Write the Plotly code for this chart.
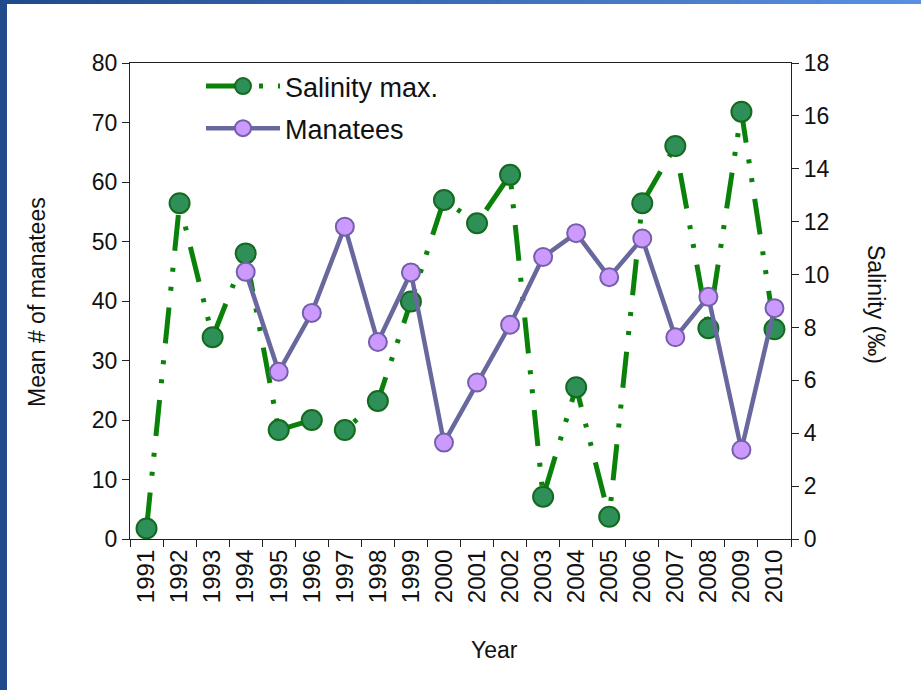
import plotly.graph_objects as go

# ---------------- data ----------------
years = [str(y) for y in range(1991, 2011)]
salinity_max = [0.40, 12.70, 7.63, 10.80, 4.12, 4.50, 4.12, 5.22, 8.98, 12.82,
                11.94, 13.77, 1.60, 5.74, 0.84, 12.70, 14.86, 7.97, 16.16, 7.93]
manatees = [None, None, None, 44.9, 28.1, 38.0, 52.5, 33.1, 44.8, 16.2,
            26.3, 36.0, 47.4, 51.4, 44.0, 50.5, 33.9, 40.7, 15.0, 38.8]
left_ticks = list(range(0, 81, 10))
right_ticks = list(range(0, 19, 2))

# ---------------- layout constants ----------------
W, H = 921, 690
L, R, T, B = 130, 130, 63, 151
PW, PH = W - L - R, H - T - B
FONT = "Arial, 'Liberation Sans', sans-serif"


def px_x(px):
    return (px - L) / PW


def px_y(py):
    return (H - B - py) / PH


fig = go.Figure()

fig.add_trace(go.Scatter(
    x=years, y=salinity_max, name="Salinity max.", yaxis="y",
    mode="lines+markers", legendgroup="sal",
    line=dict(color="#0A820A", width=5, dash="36px,17px,4px,15px,4px,17px"),
    marker=dict(size=20, color="#2F8F58", line=dict(color="#146A1E", width=2)),
))
fig.add_trace(go.Scatter(
    x=years, y=manatees, name="Manatees", yaxis="y2", legendgroup="man",
    mode="lines+markers", connectgaps=False,
    line=dict(color="#68689E", width=4.5),
    marker=dict(size=18, color="#CC99FF", line=dict(color="#7460A8", width=2)),
))

axis_common = dict(
    showline=True, linecolor="#222", linewidth=1.3,
    ticks="outside", ticklen=7, tickcolor="#222", tickwidth=1.3,
    showgrid=False, zeroline=False,
)
tick_font = dict(family=FONT, size=23, color="#111")

# slide border decoration
shapes = [dict(type="rect", xref="paper", yref="paper",
               x0=px_x(0), x1=px_x(7), y0=px_y(H), y1=px_y(0),
               fillcolor="#1F4A8C", line=dict(width=0))]
N = 46
c0, c1 = (31, 74, 140), (88, 144, 224)
for i in range(N):
    f = i / (N - 1)
    col = "rgb(%d,%d,%d)" % tuple(round(a + (b - a) * f) for a, b in zip(c0, c1))
    shapes.append(dict(type="rect", xref="paper", yref="paper",
                       x0=px_x(W * i / N), x1=px_x(W * (i + 1) / N + 1),
                       y0=px_y(4), y1=px_y(0),
                       fillcolor=col, line=dict(width=0)))

annotations = [
    dict(text="Mean # of manatees", xref="paper", yref="paper",
         x=px_x(37), y=px_y(302), textangle=-90, showarrow=False,
         xanchor="center", yanchor="middle",
         font=dict(family=FONT, size=23, color="#111")),
    dict(text="Salinity (‰)", xref="paper", yref="paper",
         x=px_x(876), y=px_y(304), textangle=90, showarrow=False,
         xanchor="center", yanchor="middle",
         font=dict(family=FONT, size=23, color="#111")),
    dict(text="Year", xref="paper", yref="paper",
         x=px_x(495), y=px_y(650), showarrow=False,
         xanchor="center", yanchor="middle",
         font=dict(family=FONT, size=23, color="#111")),
]

fig.update_layout(
    width=W, height=H,
    margin=dict(l=L, r=R, t=T, b=B, pad=0),
    paper_bgcolor="white", plot_bgcolor="white",
    font=dict(family=FONT, color="#111"),
    showlegend=True,
    legend=dict(x=px_x(201), y=px_y(62), xanchor="left", yanchor="top",
                bgcolor="rgba(0,0,0,0)", font=dict(family=FONT, size=27, color="#111"),
                itemwidth=74, traceorder="grouped", tracegroupgap=4),
    xaxis=dict(type="category", tickson="boundaries", mirror=True,
               range=[-0.5, len(years) - 0.5], autorange=False,
               tickangle=-90, tickfont=dict(family=FONT, size=24, color="#111"),
               **axis_common),
    yaxis=dict(side="right", range=[0, 18], tickvals=right_ticks,
               tickfont=tick_font, **axis_common),
    yaxis2=dict(side="left", overlaying="y", range=[0, 80], tickvals=left_ticks,
                tickfont=tick_font, **axis_common),
    shapes=shapes,
    annotations=annotations,
)

fig.write_html("out.html", config={"displayModeBar": False},
               post_script="document.body.style.margin='0';")
